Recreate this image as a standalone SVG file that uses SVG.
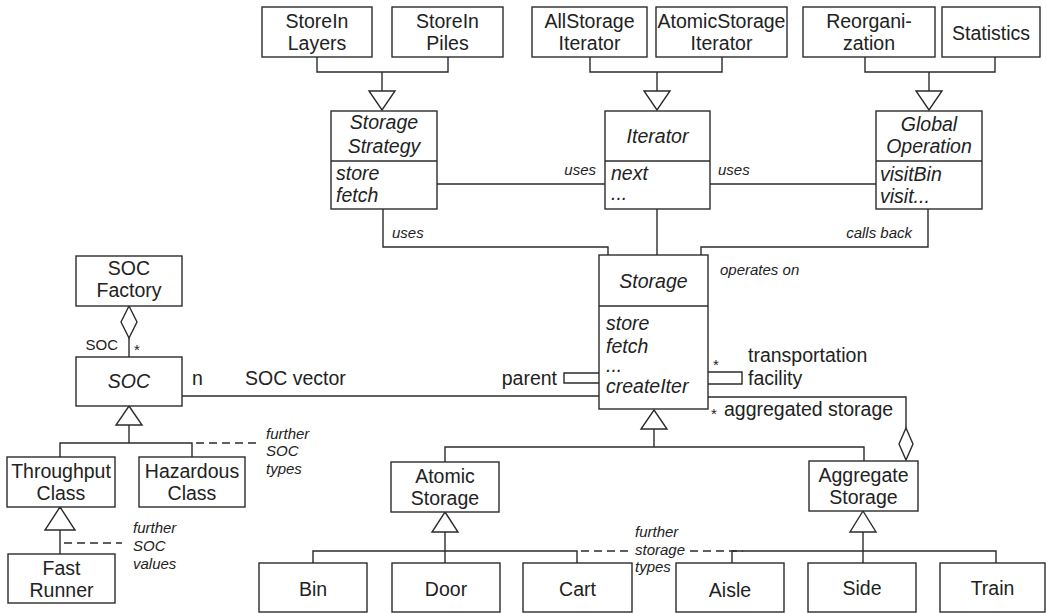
<svg xmlns="http://www.w3.org/2000/svg" width="1047" height="613" viewBox="0 0 1047 613">
  <style>
    .box { fill: #ffffff; stroke: #2b2b2b; stroke-width: 1.4; }
    .ln { fill: none; stroke: #2b2b2b; stroke-width: 1.4; }
    .dash { fill: none; stroke: #2b2b2b; stroke-width: 1.3; stroke-dasharray: 8 5; }
    .tri { fill: #ffffff; stroke: #2b2b2b; stroke-width: 1.4; stroke-linejoin: miter; }
    text { font-family: "Liberation Sans", Arial, Helvetica, sans-serif; fill: #222222; }
    .t { font-size: 19.5px; }
    .c { text-anchor: middle; }
    .i { font-style: italic; }
    .s { font-size: 15px; }
    .e { text-anchor: end; }
  </style>

  <!-- connectors: generalizations, associations, aggregations -->
  <g id="connectors">
    <!-- StoreIn* -> Storage Strategy -->
    <polyline class="ln" points="317,57 317,72 448,72 448,57"/>
    <line class="ln" x1="382" y1="72" x2="382" y2="91"/>
    <polygon class="tri" points="369,91 395,91 382,110"/>
    <!-- *Iterator -> Iterator -->
    <polyline class="ln" points="590,57 590,72 722,72 722,57"/>
    <line class="ln" x1="657" y1="72" x2="657" y2="91"/>
    <polygon class="tri" points="644,91 670,91 657,110"/>
    <!-- Reorganization / Statistics -> Global Operation -->
    <polyline class="ln" points="865,57 865,72 995,72 995,57"/>
    <line class="ln" x1="929" y1="72" x2="929" y2="91"/>
    <polygon class="tri" points="916,91 942,91 929,110"/>

    <!-- uses associations -->
    <line class="ln" x1="437" y1="184" x2="605" y2="184"/>
    <line class="ln" x1="710" y1="184" x2="876" y2="184"/>
    <polyline class="ln" points="383,209 383,247 608,247 608,255"/>
    <line class="ln" x1="657" y1="209" x2="657" y2="255"/>
    <polyline class="ln" points="928,209 928,247 701,247 701,255"/>

    <!-- self associations on Storage -->
    <polyline class="ln" points="599,373 564,373 564,383 599,383"/>
    <polyline class="ln" points="708,372 742,372 742,384 708,384"/>
    <polyline class="ln" points="708,397 906,397 906,428"/>
    <polygon class="tri" points="906,428 913,444 906,460 899,444"/>

    <!-- SOC vector -->
    <line class="ln" x1="182" y1="396" x2="599" y2="396"/>

    <!-- SOC Factory aggregation -->
    <polygon class="tri" points="129,306 137,322 129,338 121,322"/>
    <line class="ln" x1="129" y1="338" x2="129" y2="357"/>

    <!-- SOC generalization -->
    <polygon class="tri" points="129,406 142,425 116,425"/>
    <line class="ln" x1="129" y1="425" x2="129" y2="443"/>
    <polyline class="ln" points="60,457 60,443 192,443 192,457"/>
    <line class="dash" x1="196" y1="443" x2="260" y2="443"/>

    <!-- Throughput Class generalization -->
    <polygon class="tri" points="60,507 75,530 45,530"/>
    <line class="ln" x1="60" y1="530" x2="60" y2="554"/>
    <line class="dash" x1="64" y1="543" x2="122" y2="543"/>

    <!-- Storage generalization -->
    <polygon class="tri" points="654,410 667,429 641,429"/>
    <line class="ln" x1="654" y1="429" x2="654" y2="447"/>
    <polyline class="ln" points="445,462 445,447 864,447 864,461"/>

    <!-- Atomic Storage generalization -->
    <polygon class="tri" points="445,512 458,532 432,532"/>
    <line class="ln" x1="445" y1="532" x2="445" y2="563"/>
    <polyline class="ln" points="313,563 313,551 577,551 577,563"/>
    <line class="dash" x1="581" y1="551" x2="630" y2="551"/>
    <line class="dash" x1="690" y1="551" x2="743" y2="551"/>

    <!-- Aggregate Storage generalization -->
    <polygon class="tri" points="863,511 876,532 850,532"/>
    <line class="ln" x1="863" y1="532" x2="863" y2="563"/>
    <polyline class="ln" points="732,563 732,551 996,551 996,563"/>
  </g>

  <!-- connector labels -->
  <g id="labels">
    <text class="s i e" x="596" y="175">uses</text>
    <text class="s i" x="718" y="175">uses</text>
    <text class="s i" x="392" y="238">uses</text>
    <text class="s i e" x="912" y="238">calls back</text>
    <text class="s i" x="720" y="275">operates on</text>
    <text class="t e" x="557" y="385">parent</text>
    <text class="s" x="713" y="370">*</text>
    <text class="t" x="748" y="362">transportation</text>
    <text class="t" x="748" y="385">facility</text>
    <text class="s" x="711" y="419">*</text>
    <text class="t" x="724" y="416">aggregated storage</text>
    <text class="t" x="192" y="385">n</text>
    <text class="t" x="245" y="385">SOC vector</text>
    <text class="s e" x="118" y="350">SOC</text>
    <text class="s" x="134" y="355">*</text>
    <text class="s i" x="266" y="439">further</text>
    <text class="s i" x="266" y="456">SOC</text>
    <text class="s i" x="266" y="474">types</text>
    <text class="s i" x="133" y="533">further</text>
    <text class="s i" x="133" y="551">SOC</text>
    <text class="s i" x="133" y="569">values</text>
    <text class="s i" x="635" y="537">further</text>
    <text class="s i" x="635" y="555">storage</text>
    <text class="s i" x="635" y="572">types</text>
  </g>

  <!-- top row -->
  <g id="storeInLayers">
    <rect class="box" x="262" y="7" width="110" height="50"/>
    <text class="t c" x="317" y="28">StoreIn</text>
    <text class="t c" x="317" y="50">Layers</text>
  </g>
  <g id="storeInPiles">
    <rect class="box" x="392" y="7" width="111" height="50"/>
    <text class="t c" x="447.5" y="28">StoreIn</text>
    <text class="t c" x="447.5" y="50">Piles</text>
  </g>
  <g id="allStorageIterator">
    <rect class="box" x="532" y="7" width="115" height="50"/>
    <text class="t c" x="589.5" y="28">AllStorage</text>
    <text class="t c" x="589.5" y="50">Iterator</text>
  </g>
  <g id="atomicStorageIterator">
    <rect class="box" x="656" y="7" width="131" height="50"/>
    <text class="t c" x="721.5" y="28">AtomicStorage</text>
    <text class="t c" x="721.5" y="50">Iterator</text>
  </g>
  <g id="reorganization">
    <rect class="box" x="803" y="7" width="132" height="50"/>
    <text class="t c" x="869" y="28">Reorgani-</text>
    <text class="t c" x="869" y="50">zation</text>
  </g>
  <g id="statistics">
    <rect class="box" x="942" y="7" width="98" height="50"/>
    <text class="t c" x="991" y="40">Statistics</text>
  </g>

  <!-- abstract classes with operations -->
  <g id="storageStrategy">
    <rect class="box" x="331" y="111" width="106" height="98"/>
    <line class="ln" x1="331" y1="161" x2="437" y2="161"/>
    <text class="t c i" x="384" y="129">Storage</text>
    <text class="t c i" x="384" y="153">Strategy</text>
    <text class="t i" x="336" y="180">store</text>
    <text class="t i" x="336" y="202">fetch</text>
  </g>
  <g id="iterator">
    <rect class="box" x="605" y="111" width="105" height="98"/>
    <line class="ln" x1="605" y1="161" x2="710" y2="161"/>
    <text class="t c i" x="657.5" y="143">Iterator</text>
    <text class="t i" x="611" y="180">next</text>
    <text class="t i" x="611" y="200">...</text>
  </g>
  <g id="globalOperation">
    <rect class="box" x="876" y="111" width="106" height="98"/>
    <line class="ln" x1="876" y1="161" x2="982" y2="161"/>
    <text class="t c i" x="929" y="131">Global</text>
    <text class="t c i" x="929" y="153">Operation</text>
    <text class="t i" x="880" y="181">visitBin</text>
    <text class="t i" x="880" y="203">visit...</text>
  </g>
  <g id="storage">
    <rect class="box" x="599" y="255" width="109" height="154"/>
    <line class="ln" x1="599" y1="306" x2="708" y2="306"/>
    <text class="t c i" x="653.5" y="288">Storage</text>
    <text class="t i" x="606" y="330">store</text>
    <text class="t i" x="606" y="353">fetch</text>
    <text class="t i" x="606" y="372">...</text>
    <text class="t i" x="606" y="393">createIter</text>
  </g>

  <!-- SOC hierarchy -->
  <g id="socFactory">
    <rect class="box" x="76" y="256" width="106" height="50"/>
    <text class="t c" x="129" y="275">SOC</text>
    <text class="t c" x="129" y="297">Factory</text>
  </g>
  <g id="soc">
    <rect class="box" x="76" y="357" width="106" height="49"/>
    <text class="t c i" x="129" y="388">SOC</text>
  </g>
  <g id="throughputClass">
    <rect class="box" x="7" y="457" width="108" height="50"/>
    <text class="t c" x="61" y="478">Throughput</text>
    <text class="t c" x="61" y="500">Class</text>
  </g>
  <g id="hazardousClass">
    <rect class="box" x="139" y="457" width="106" height="50"/>
    <text class="t c" x="192" y="478">Hazardous</text>
    <text class="t c" x="192" y="500">Class</text>
  </g>
  <g id="fastRunner">
    <rect class="box" x="8" y="554" width="107" height="49"/>
    <text class="t c" x="61.5" y="575">Fast</text>
    <text class="t c" x="61.5" y="597">Runner</text>
  </g>

  <!-- storage hierarchy -->
  <g id="atomicStorage">
    <rect class="box" x="391" y="462" width="108" height="50"/>
    <text class="t c" x="445" y="483">Atomic</text>
    <text class="t c" x="445" y="505">Storage</text>
  </g>
  <g id="aggregateStorage">
    <rect class="box" x="809" y="461" width="109" height="50"/>
    <text class="t c" x="863.5" y="482">Aggregate</text>
    <text class="t c" x="863.5" y="504">Storage</text>
  </g>
  <g id="bin">
    <rect class="box" x="259" y="563" width="108" height="49"/>
    <text class="t c" x="313" y="596">Bin</text>
  </g>
  <g id="door">
    <rect class="box" x="392" y="563" width="108" height="49"/>
    <text class="t c" x="446" y="596">Door</text>
  </g>
  <g id="cart">
    <rect class="box" x="523" y="563" width="109" height="49"/>
    <text class="t c" x="577.5" y="596">Cart</text>
  </g>
  <g id="aisle">
    <rect class="box" x="676" y="563" width="108" height="49"/>
    <text class="t c" x="730" y="597">Aisle</text>
  </g>
  <g id="side">
    <rect class="box" x="808" y="563" width="108" height="49"/>
    <text class="t c" x="862" y="595">Side</text>
  </g>
  <g id="train">
    <rect class="box" x="940" y="563" width="105" height="49"/>
    <text class="t c" x="992.5" y="595">Train</text>
  </g>
</svg>
